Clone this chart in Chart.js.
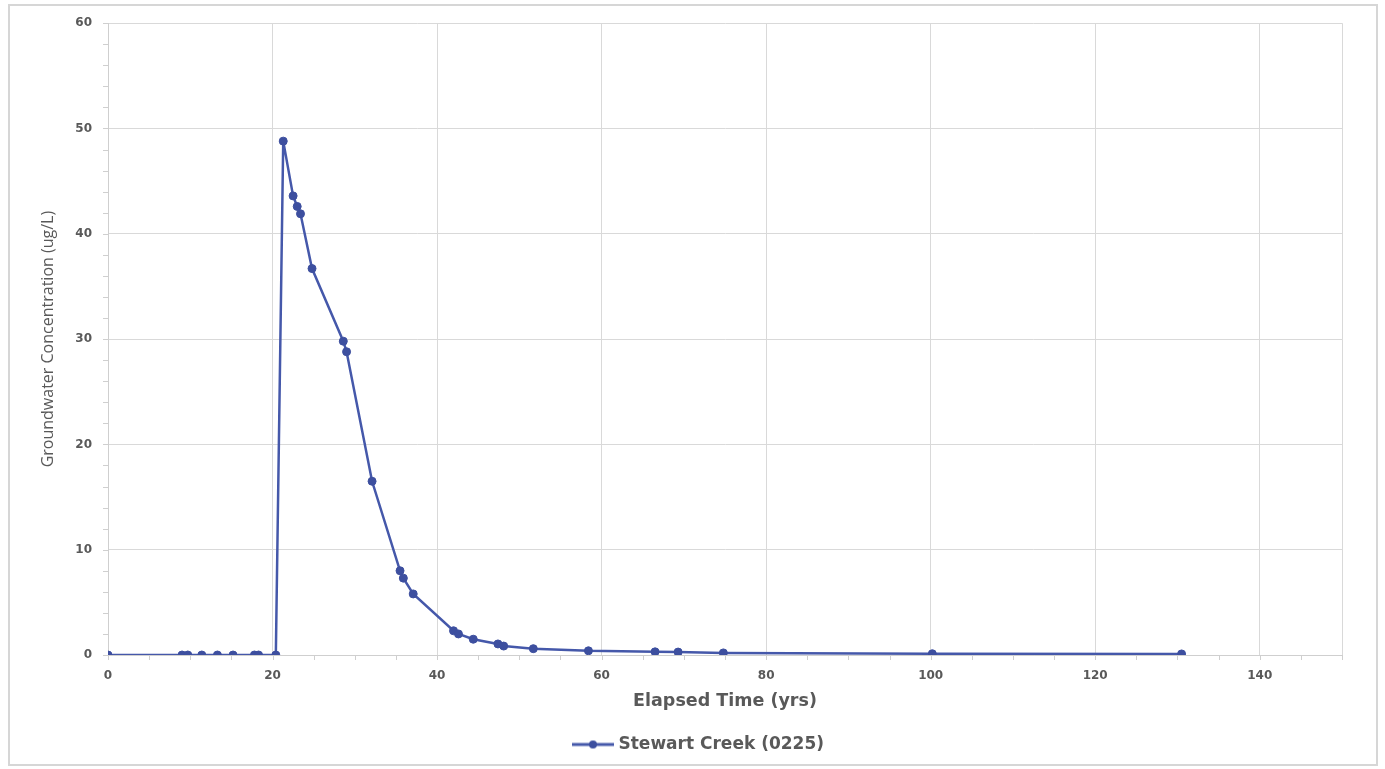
<!DOCTYPE html>
<html>
<head>
<meta charset="utf-8">
<title>Stewart Creek (0225)</title>
<script src="https://cdn.jsdelivr.net/npm/chart.js@4/dist/chart.umd.min.js"></script>
<style>
  html, body { margin: 0; padding: 0; background: #ffffff; }
  #wrap { width: 1385px; height: 769px; position: relative; }
</style>
</head>
<body>
<div id="wrap"><canvas id="chart" width="1385" height="769"></canvas></div>
<script>
// Elapsed time (years) and groundwater concentration (ug/L)
const elapsedYears = [0, 9.0, 9.7, 11.4, 13.3, 15.2, 17.8, 18.3, 20.4,
  21.3, 22.5, 23.0, 23.4, 24.8, 28.6, 29.0, 32.1, 35.5, 35.9, 37.1,
  42.0, 42.6, 44.4, 47.4, 48.1, 51.7, 58.4, 66.5, 69.3, 74.8, 100.2, 130.5];
const concentration = [0, 0, 0, 0, 0, 0, 0, 0, 0,
  48.8, 43.6, 42.6, 41.9, 36.7, 29.8, 28.8, 16.5, 8.0, 7.3, 5.8,
  2.3, 2.0, 1.5, 1.05, 0.85, 0.6, 0.4, 0.3, 0.28, 0.2, 0.12, 0.1];

const seriesName = 'Stewart Creek (0225)';
const xTitle = 'Elapsed Time (yrs)';
const yTitle = 'Groundwater Concentration (ug/L)';

const xMin = 0, xMax = 150, xStep = 20, xMinorStep = 5;
const yMin = 0, yMax = 60, yStep = 10, yMinorStep = 2;

const points = elapsedYears.map((t, i) => ({ x: t, y: concentration[i] }));

const gridColor = '#d9d9d9';
const textColor = '#595959';
const lineColor = '#4558aa';
const markerColor = '#3d4f9f';
const wideFont = '"DejaVu Sans", Verdana, sans-serif';
const narrowFont = '"Open Sans", "Liberation Sans", sans-serif';

// Legend symbol: a short line with a marker in its middle
function legendSymbol() {
  const c = document.createElement('canvas');
  c.width = 42; c.height = 10;
  const g = c.getContext('2d');
  g.strokeStyle = lineColor;
  g.lineWidth = 3;
  g.beginPath(); g.moveTo(0, 5); g.lineTo(42, 5); g.stroke();
  g.fillStyle = markerColor;
  g.beginPath(); g.arc(21, 5, 4, 0, Math.PI * 2); g.fill();
  return c;
}

// White page with a thin frame around the whole chart
const framePlugin = {
  id: 'frame',
  beforeDraw(chart) {
    const ctx = chart.ctx;
    ctx.save();
    ctx.fillStyle = '#ffffff';
    ctx.fillRect(0, 0, chart.width, chart.height);
    ctx.strokeStyle = '#d6d6d6';
    ctx.lineWidth = 2;
    ctx.strokeRect(9, 5, chart.width - 17, chart.height - 9);
    ctx.restore();
  }
};

// Small minor tick marks along both axes
const minorTickPlugin = {
  id: 'minorTicks',
  afterDraw(chart) {
    const ctx = chart.ctx;
    const xs = chart.scales.x, ys = chart.scales.y;
    ctx.save();
    ctx.strokeStyle = '#cfcfcf';
    ctx.lineWidth = 1;
    ctx.beginPath();
    for (let v = yMin; v <= yMax + 1e-9; v += yMinorStep) {
      const py = Math.round(ys.getPixelForValue(v)) + 0.5;
      ctx.moveTo(xs.left - 5, py);
      ctx.lineTo(xs.left, py);
    }
    for (let v = xMin; v <= xMax + 1e-9; v += xMinorStep) {
      const px = Math.round(xs.getPixelForValue(v)) + 0.5;
      ctx.moveTo(px, ys.bottom);
      ctx.lineTo(px, ys.bottom + 5);
    }
    ctx.stroke();
    ctx.restore();
  }
};

// Nudge the legend so it sits a little right of the canvas centre
const legendShiftPlugin = {
  id: 'legendShift',
  afterLayout(chart) {
    const lg = chart.legend;
    if (lg) { lg.left += 24; lg.right += 24; }
  }
};

const symbol = legendSymbol();

new Chart(document.getElementById('chart'), {
  type: 'line',
  data: {
    datasets: [{
      label: seriesName,
      data: points,
      borderColor: lineColor,
      backgroundColor: lineColor,
      borderWidth: 2.5,
      pointRadius: 4,
      pointHoverRadius: 4,
      pointBackgroundColor: markerColor,
      pointBorderColor: markerColor,
      pointBorderWidth: 1,
      tension: 0,
      fill: false
    }]
  },
  options: {
    responsive: false,
    animation: false,
    devicePixelRatio: 1,
    layout: { padding: { left: 10, right: 43, top: 22, bottom: 6 } },
    plugins: {
      tooltip: { enabled: false },
      legend: {
        position: 'bottom',
        labels: {
          color: textColor,
          font: { family: wideFont, size: 17, weight: 'bold' },
          usePointStyle: true,
          pointStyleWidth: 34,
          padding: 16,
          generateLabels(chart) {
            const ds = chart.data.datasets[0];
            return [{
              text: ds.label,
              fillStyle: ds.borderColor,
              strokeStyle: ds.borderColor,
              lineWidth: 0,
              pointStyle: symbol,
              fontColor: textColor,
              datasetIndex: 0
            }];
          }
        }
      }
    },
    scales: {
      x: {
        type: 'linear',
        min: xMin,
        max: xMax,
        ticks: {
          stepSize: xStep,
          color: textColor,
          font: { family: wideFont, size: 12, weight: 'bold' },
          padding: 14,
          maxRotation: 0,
          callback: v => (v % xStep === 0 ? v : '')
        },
        grid: { color: gridColor, lineWidth: 1, drawTicks: false },
        border: { color: '#cfcfcf', width: 1 },
        title: {
          display: true,
          text: xTitle,
          color: textColor,
          font: { family: wideFont, size: 17.5, weight: 'bold' },
          padding: { top: 4, bottom: 8 }
        },
        afterFit(scale) { scale.height = 65; }
      },
      y: {
        type: 'linear',
        min: yMin,
        max: yMax,
        ticks: {
          stepSize: yStep,
          color: textColor,
          font: { family: wideFont, size: 12, weight: 'bold' },
          padding: 16
        },
        grid: { color: gridColor, lineWidth: 1, drawTicks: false },
        border: { color: '#cfcfcf', width: 1 },
        title: {
          display: true,
          text: yTitle,
          color: textColor,
          font: { family: narrowFont, size: 16, weight: 'normal' },
          padding: { top: 29, bottom: 6 }
        },
        afterFit(scale) { scale.width = 98; }
      }
    }
  },
  plugins: [framePlugin, minorTickPlugin, legendShiftPlugin]
});
</script>
</body>
</html>
